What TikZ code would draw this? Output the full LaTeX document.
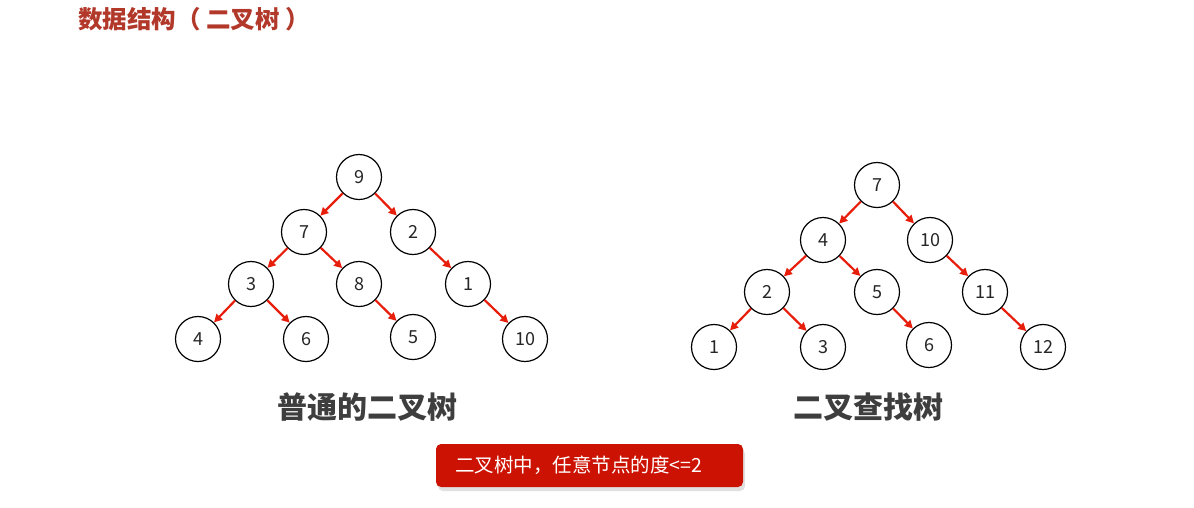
\documentclass[tikz,border=0pt]{standalone}
\usepackage{fontspec}
\setmainfont{Noto Sans CJK SC}
\newfontfamily\cjk{Noto Sans CJK SC}
\usetikzlibrary{arrows.meta,shadows}
\definecolor{titlered}{RGB}{178,56,42}
\definecolor{arrowred}{RGB}{232,30,12}
\definecolor{boxred}{RGB}{204,18,2}
\definecolor{subgray}{RGB}{62,62,62}
\tikzset{
  tn/.style={circle,draw=black,line width=1.2pt,minimum size=45pt,inner sep=0pt,font=\cjk\fontsize{18}{18}\selectfont,text=black!85},
  edge/.style={draw=arrowred,line width=2.2pt,-{Triangle[length=8pt,width=8pt]}},
  subtitle/.style={font=\cjk\bfseries\fontsize{30}{30}\selectfont,text=subgray},
}
\begin{document}
\begin{tikzpicture}[x=1pt,y=-1pt]
\useasboundingbox (0,0) rectangle (1194,507);
\fill[white] (0,0) rectangle (1194,507);
% title
\node[anchor=west,inner sep=0pt,font=\cjk\bfseries\fontsize{24.5}{24.5}\selectfont,text=titlered] (title) at (78,19) {数据结构（ 二叉树 ）};
% left tree
\node[tn] (a9) at (359,177) {9};
\node[tn] (a7) at (304,232) {7};
\node[tn] (a2) at (413,232) {2};
\node[tn] (a3) at (251,284) {3};
\node[tn] (a8) at (359,284) {8};
\node[tn] (a1) at (468,284) {1};
\node[tn] (a4) at (198,339) {4};
\node[tn] (a6) at (306,339) {6};
\node[tn] (a5) at (413,337) {5};
\node[tn] (a10) at (525,339) {10};
\draw[edge] (a9) -- (a7);
\draw[edge] (a9) -- (a2);
\draw[edge] (a7) -- (a3);
\draw[edge] (a7) -- (a8);
\draw[edge] (a2) -- (a1);
\draw[edge] (a3) -- (a4);
\draw[edge] (a3) -- (a6);
\draw[edge] (a8) -- (a5);
\draw[edge] (a1) -- (a10);
% right tree
\node[tn] (b7) at (877,185) {7};
\node[tn] (b4) at (823,240) {4};
\node[tn] (b10) at (930,240) {10};
\node[tn] (b2) at (767,292) {2};
\node[tn] (b5) at (877,292) {5};
\node[tn] (b11) at (985,292) {11};
\node[tn] (b1) at (714,347) {1};
\node[tn] (b3) at (823,347) {3};
\node[tn] (b6) at (929,345) {6};
\node[tn] (b12) at (1043,347) {12};
\draw[edge] (b7) -- (b4);
\draw[edge] (b7) -- (b10);
\draw[edge] (b4) -- (b2);
\draw[edge] (b4) -- (b5);
\draw[edge] (b10) -- (b11);
\draw[edge] (b2) -- (b1);
\draw[edge] (b2) -- (b3);
\draw[edge] (b5) -- (b6);
\draw[edge] (b11) -- (b12);
% subtitles
\node[subtitle] (s1) at (367,407) {普通的二叉树};
\node[subtitle] (s2) at (868,407) {二叉查找树};
% note box
\fill[black!12,rounded corners=5pt] (438,449) rectangle (745,491);
\node[fill=boxred,rounded corners=5pt,minimum width=307pt,minimum height=43pt,inner sep=0pt] (box) at (589.5,465.5) {};
\node[anchor=west,inner sep=0pt,text=white,font=\cjk\fontsize{19.5}{19.5}\selectfont] (note) at (455,465) {二叉树中，任意节点的度<=2};
\end{tikzpicture}
\end{document}
